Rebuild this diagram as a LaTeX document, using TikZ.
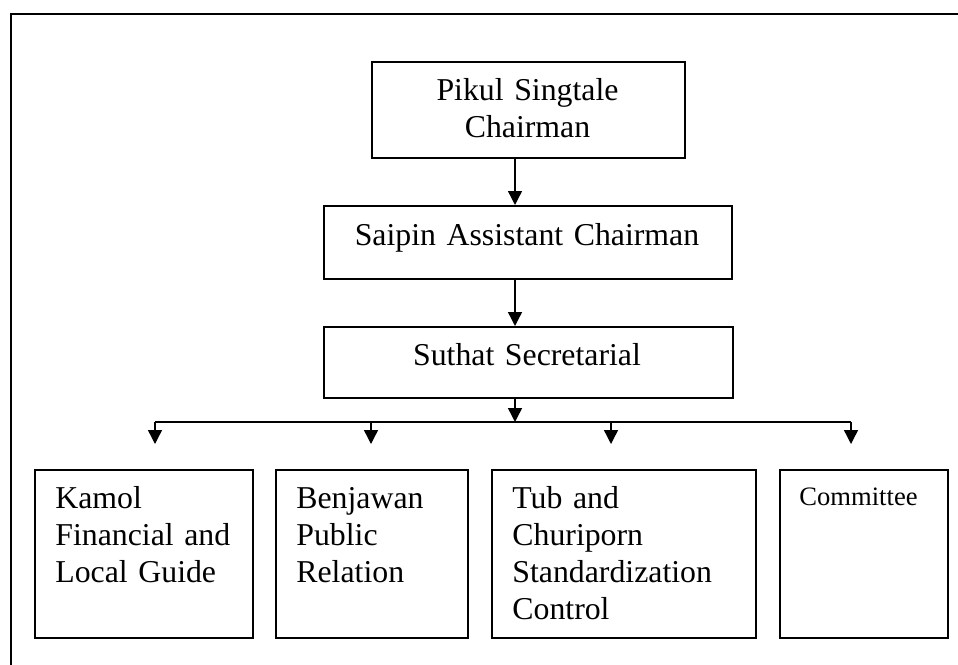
\documentclass[tikz,border=0pt]{standalone}
\usepackage{fontspec}
\setmainfont{Liberation Serif}
\usetikzlibrary{arrows.meta,positioning}

\begin{document}
\begin{tikzpicture}[
    x=0.5pt, y=-0.5pt,
    box/.style={rectangle, draw, line width=1pt, anchor=north west, inner sep=0pt},
    lbl/.style={inner sep=0pt, font=\fontsize{15.9}{18.5}\selectfont},
    arrow/.style={-{Triangle[width=7pt,length=7pt]}, line width=0.7pt},
    bus/.style={line width=0.7pt}
]

\useasboundingbox (0,0) rectangle (958,664);
\clip (0,0) rectangle (958,664);

% Frame
\draw[line width=1pt] (11,14) rectangle (990,700);

% Top of the chart
\node[box, minimum width=156.5pt, minimum height=48pt] (chair) at (371,61) {};
\node[box, minimum width=204pt, minimum height=36.5pt] (asst) at (323,205) {};
\node[box, minimum width=204.5pt, minimum height=35.5pt] (sec) at (323,326) {};

\node[lbl, text width=150pt, align=center, anchor=base] (chairtxt) at (527.5,100) {Pikul Singtale\\Chairman};
\node[lbl, text width=200pt, align=center, anchor=base] (assttxt) at (527,245) {Saipin Assistant Chairman};
\node[lbl, text width=200pt, align=center, anchor=base] (sectxt) at (527,365) {Suthat Secretarial};

% Sections
\node[box, minimum width=109pt, minimum height=84pt] (kamol) at (34,469) {};
\node[box, minimum width=96pt, minimum height=84pt] (benja) at (275,469) {};
\node[box, minimum width=132pt, minimum height=84pt] (tub) at (491,469) {};
\node[box, minimum width=84pt, minimum height=84pt] (comm) at (779,469) {};

\node[lbl, text width=100pt, align=left, anchor=base west] (kamoltxt) at (55,508) {Kamol\\Financial and\\Local Guide};
\node[lbl, text width=85pt, align=left, anchor=base west] (benjatxt) at (296,508) {Benjawan\\Public\\Relation};
\node[lbl, text width=120pt, align=left, anchor=base west] (tubtxt) at (512,508) {Tub and\\Churiporn\\Standardization\\Control};
\node[lbl, font=\fontsize{13.3}{16}\selectfont, anchor=base west] (commtxt) at (799,505) {Committee};

% Arrows
\coordinate (spine) at (515,0);
\coordinate (busmid) at (515,422);
\draw[arrow] (chair.south -| spine) -- (asst.north -| spine);
\draw[arrow] (asst.south -| spine) -- (sec.north -| spine);
\draw[arrow] (sec.south -| spine) -- (busmid);

\coordinate (busl) at (155,422);
\coordinate (busr) at (851,422);
\draw[bus] (busl) -- (busr);

\foreach \x/\n in {155/dkamol, 371/dbenja, 611/dtub, 851/dcomm} {
    \coordinate (\n) at (\x,444);
    \draw[arrow] (\n |- busmid) -- (\n);
}

\end{tikzpicture}
\end{document}
